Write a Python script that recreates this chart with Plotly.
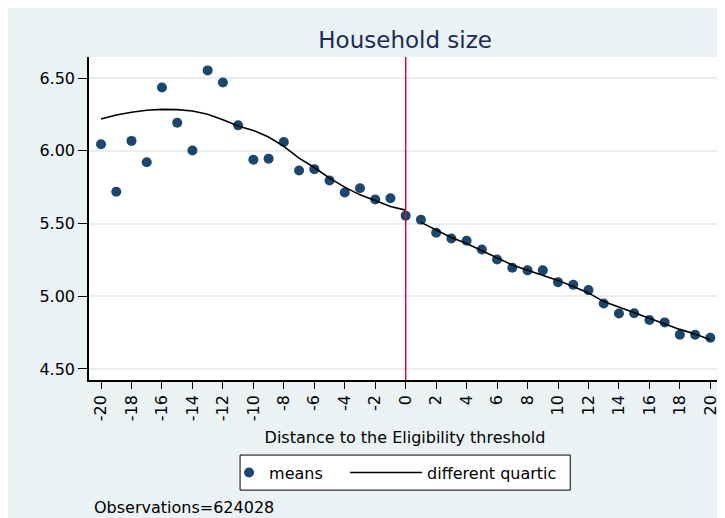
import plotly.graph_objects as go

# ---- data ----
distance = list(range(-20, 21))
means = [6.045, 5.718, 6.068, 5.921, 6.435, 6.193, 6.002, 6.553, 6.470, 6.175,
         5.939, 5.946, 6.061, 5.865, 5.874, 5.796, 5.713, 5.743, 5.665, 5.674,
         5.554,
         5.526, 5.437, 5.397, 5.381, 5.321, 5.252, 5.196, 5.178, 5.178, 5.097,
         5.079, 5.042, 4.950, 4.881, 4.883, 4.836, 4.820, 4.735, 4.735, 4.715]

fit_left_x = list(range(-20, 1))
fit_left = [6.218, 6.246, 6.265, 6.279, 6.285, 6.283, 6.274, 6.251, 6.213, 6.170,
            6.140, 6.095, 6.030, 5.950, 5.885, 5.812, 5.750, 5.697, 5.658, 5.617,
            5.592]
fit_right_x = list(range(1, 21))
fit_right = [5.508, 5.455, 5.404, 5.362, 5.312, 5.261, 5.215, 5.178, 5.146, 5.109,
             5.067, 5.023, 4.963, 4.924, 4.887, 4.850, 4.811, 4.772, 4.740, 4.701]

x_ticks = list(range(-20, 21, 2))
x_ticktext = [str(v) for v in x_ticks]          # plain hyphen minus, as in the reference
y_ticks = [4.5, 5.0, 5.5, 6.0, 6.5]
y_ticktext = ["4.50", "5.00", "5.50", "6.00", "6.50"]

FONT = "DejaVu Sans"
BG = "#eaf2f3"
NAVY = "#1a476f"

fig = go.Figure()
fig.add_trace(go.Scatter(x=distance, y=means, mode="markers", name="means",
                         marker=dict(color=NAVY, size=10), legend="legend"))
fig.add_trace(go.Scatter(x=fit_left_x, y=fit_left, mode="lines", name="different quartic",
                         line=dict(color="black", width=1.6), legend="legend2"))
fig.add_trace(go.Scatter(x=fit_right_x, y=fit_right, mode="lines", name="different quartic",
                         line=dict(color="black", width=1.6), showlegend=False,
                         legend="legend2"))

# threshold line
fig.add_shape(type="line", xref="x", yref="paper", x0=0, x1=0, y0=0, y1=1,
              line=dict(color="#c8103a", width=1.5), layer="above")

# figure geometry (page has an 8px body margin, figure runs off right/bottom edge)
OFF = 8
W, H = 717, 510
L, R, T, B = 81, 4.3, 49.3, 138
pw, ph = W - L - R, H - T - B
def px_x(p):      # screen pixel -> paper x
    return (p - OFF - L) / pw
def px_y(p):      # screen pixel -> paper y
    return (H - B - (p - OFF)) / ph

# common legend frame
fig.add_shape(type="rect", xref="paper", yref="paper",
              x0=px_x(240), x1=px_x(570), y0=px_y(490), y1=px_y(455),
              fillcolor="white", line=dict(color="black", width=1), layer="below")

fig.add_annotation(text="Observations=624028", xref="paper", yref="paper",
                   x=px_x(92), y=px_y(507), xanchor="left", yanchor="middle",
                   showarrow=False, font=dict(family=FONT, size=16, color="black"))

leg_common = dict(orientation="h", yanchor="middle", y=px_y(472.5),
                  bgcolor="rgba(0,0,0,0)", borderwidth=0,
                  font=dict(family=FONT, size=16, color="black"))

fig.update_layout(
    width=W, height=H,
    margin=dict(l=L, r=R, t=T, b=B, pad=0),
    paper_bgcolor=BG, plot_bgcolor="white",
    title=dict(text="Household size", x=px_x(405), xref="paper", xanchor="center",
               y=1 - (40 - OFF) / H, yref="container", yanchor="middle",
               font=dict(family=FONT, size=23, color="#1c2b58")),
    font=dict(family=FONT, size=16, color="black"),
    showlegend=True,
    legend=dict(x=px_x(229), xanchor="left", itemwidth=30, **leg_common),
    legend2=dict(x=px_x(345), xanchor="left", itemwidth=72, **leg_common),
    xaxis=dict(range=[-20.79, 20.70], tickvals=x_ticks, ticktext=x_ticktext, tickangle=-90,
               ticks="outside", ticklen=7, tickwidth=1.2, tickcolor="black",
               showline=True, linecolor="black", linewidth=1.5,
               showgrid=False, zeroline=False,
               tickfont=dict(family=FONT, size=16, color="black"),
               title=dict(text="Distance to the Eligibility threshold", standoff=12,
                          font=dict(family=FONT, size=16, color="black")),
               automargin=False),
    yaxis=dict(range=[4.424, 6.645], tickvals=y_ticks, ticktext=y_ticktext,
               ticks="outside", ticklen=9, tickwidth=1.2, tickcolor="black",
               showline=True, linecolor="black", linewidth=1.5,
               showgrid=True, gridcolor="#e6eef0", gridwidth=1.5, zeroline=False,
               tickfont=dict(family=FONT, size=16, color="black"),
               automargin=False),
)

fig.write_html("out.html")
